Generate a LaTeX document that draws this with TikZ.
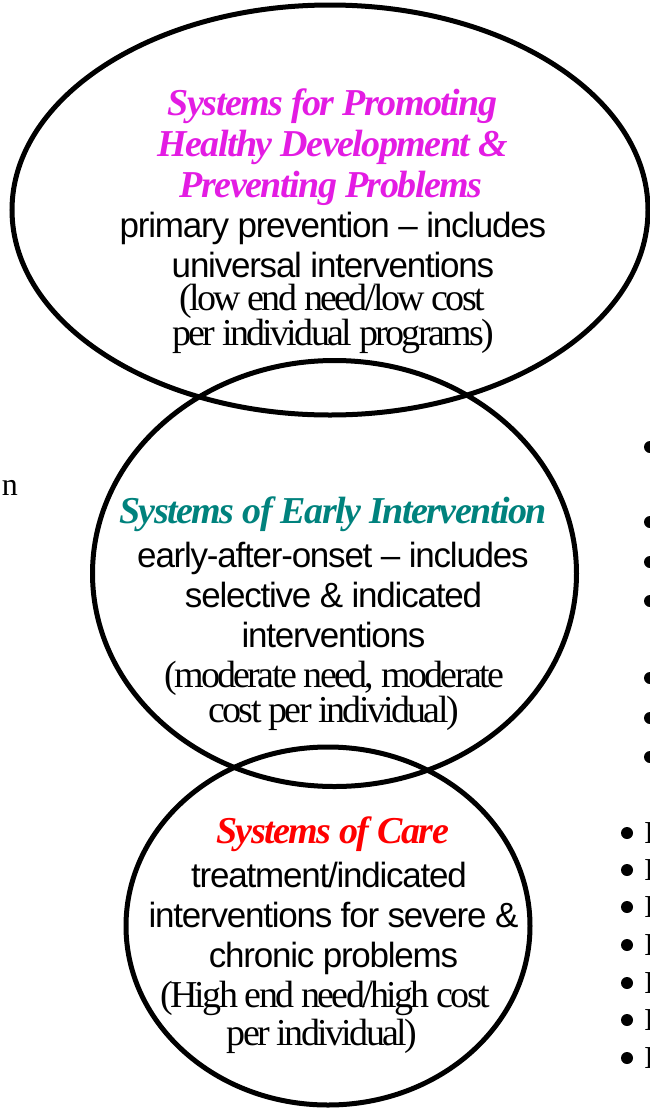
\documentclass[tikz,border=0pt]{standalone}
\usepackage{fontspec}
\usetikzlibrary{shapes.geometric}
\newfontfamily\headfont[LetterSpace=-4]{Liberation Serif}
\newfontfamily\bodyfont[LetterSpace=-3.5]{Liberation Sans}
\newfontfamily\notefont[LetterSpace=-7]{Liberation Serif}
\newfontfamily\edgefont{Liberation Serif}
\definecolor{promo}{HTML}{E31CE3}
\definecolor{early}{HTML}{00827D}
\definecolor{care}{HTML}{FF0000}
\begin{document}
\begin{tikzpicture}[x=1pt,y=-1pt,
  ring/.style={draw=black,line width=5pt,ellipse,inner sep=0pt,outer sep=0pt},
  head/.style={anchor=base,inner sep=0pt,font=\headfont\bfseries\itshape\fontsize{38}{42}\selectfont},
  body/.style={anchor=base,inner sep=0pt,font=\bodyfont\fontsize{35}{40}\selectfont},
  note/.style={anchor=base,inner sep=0pt,font=\notefont\fontsize{38}{42}\selectfont},
  edgetext/.style={inner sep=0pt,font=\edgefont\fontsize{32}{36}\selectfont},
  dot/.style={circle,fill=black,inner sep=0pt,minimum size=12pt}]
\useasboundingbox (0,0) rectangle (650,1109);
% rings
\node[ring,minimum width=636pt,minimum height=410pt] (top) at (330,210) {};
\node[ring,minimum width=484pt,minimum height=426pt] (mid) at (334.5,573.5) {};
\node[ring,minimum width=404pt,minimum height=358pt] (bot) at (328,926) {};
% top ellipse text
\node[head,text=promo] (t1) at (332.5,115) {Systems for Promoting};
\node[head,text=promo] (t2) at (332.5,156) {Healthy Development \&};
\node[head,text=promo] (t3) at (331,197) {Preventing Problems};
\node[body] (t4) at (333,237) {primary prevention – includes};
\node[body] (t5) at (333,277) {universal interventions};
\node[note] (t6) at (332,310) {(low end need/low cost};
\node[note] (t7) at (333,345) {per individual programs)};
% middle ellipse text
\node[head,text=early] (m1) at (333,523) {Systems of Early Intervention};
\node[body] (m2) at (333,567) {early-after-onset – includes};
\node[body] (m3) at (333.5,607) {selective \& indicated};
\node[body] (m4) at (333.5,647) {interventions};
\node[note] (m5) at (334,687) {(moderate need, moderate};
\node[note] (m6) at (333.5,722) {cost per individual)};
% bottom ellipse text
\node[head,text=care] (b1) at (332.5,843) {Systems of Care};
\node[body] (b2) at (329,887) {treatment/indicated};
\node[body] (b3) at (333.5,927) {interventions for severe \&};
\node[body] (b4) at (333.5,967) {chronic problems};
\node[note] (b5) at (325,1007) {(High end need/high cost};
\node[note] (b6) at (322,1045) {per individual)};
% cut-off text at the edges
\node[edgetext,anchor=base east] (ln) at (18,495) {n};
\foreach \y [count=\i] in {447,522,562,601,678,718,757}
  \node[dot] (r\i) at (650,\y) {};
\foreach \y [count=\i] in {833,870,907,945,983,1020,1058} {
  \node[dot] (s\i) at (627,\y) {};
  \node[edgetext,anchor=base west] (w\i) at (644,\y+10) {I};
}
\end{tikzpicture}
\end{document}
